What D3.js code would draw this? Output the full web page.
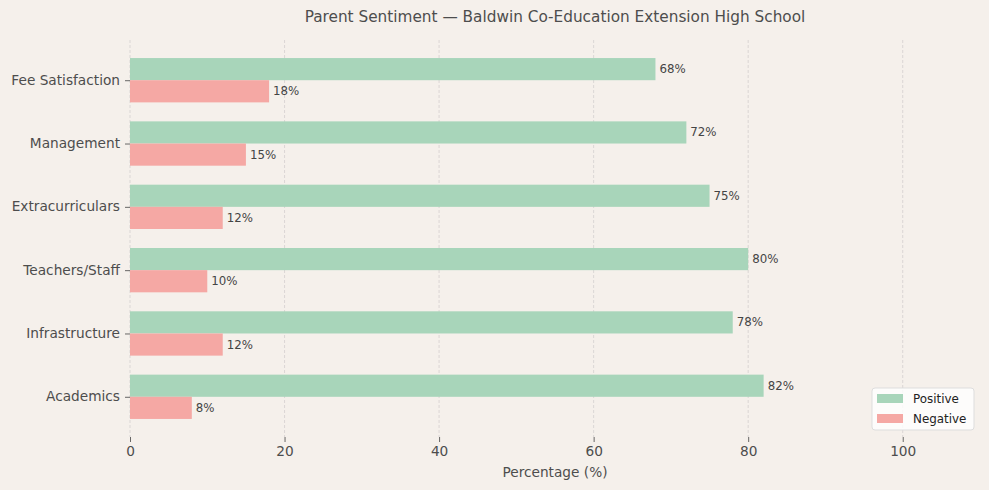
<!DOCTYPE html>
<html>
<head>
<meta charset="utf-8">
<script src="https://cdn.jsdelivr.net/npm/d3@7"></script>
<style>
  body { margin: 0; background: #f5f0eb; }
  svg { font-family: "DejaVu Sans", sans-serif; display: block; }
</style>
</head>
<body>
<div id="chart"></div>
<script>
// chart data
const categories = ["Academics", "Infrastructure", "Teachers/Staff", "Extracurriculars", "Management", "Fee Satisfaction"];
const positive = [82, 78, 80, 75, 72, 68];
const negative = [8, 12, 10, 12, 15, 18];
const xTicks = [0, 20, 40, 60, 80, 100];

const width = 989;
const height = 490;
const margin = { top: 40, right: 9, bottom: 53, left: 130 };
const barH = 0.35;
const textColor = "#4d4d4d";
const posColor = "#a8d5ba";
const negColor = "#f5a8a4";

const svg = d3.select("#chart")
    .append("svg")
    .attr("width", width)
    .attr("height", height);

svg.append("rect")
    .attr("width", width)
    .attr("height", height)
    .attr("fill", "#f5f0eb");

const x = d3.scaleLinear()
    .domain([0, 110])
    .range([margin.left, width - margin.right]);

// matplotlib-like y: index positions with 5% padding
const y = d3.scaleLinear()
    .domain([-0.35 - 0.285, categories.length - 1 + 0.35 + 0.285])
    .range([height - margin.bottom, margin.top]);

// vertical gridlines
svg.append("g")
    .selectAll("line")
    .data(xTicks)
    .join("line")
    .attr("x1", d => x(d))
    .attr("x2", d => x(d))
    .attr("y1", margin.top)
    .attr("y2", height - margin.bottom)
    .attr("stroke", "#d0cccc")
    .attr("stroke-width", 0.7)
    .attr("stroke-dasharray", "3,2");

// bars
const rows = categories.map((c, i) => ({ name: c, i: i, pos: positive[i], neg: negative[i] }));

svg.append("g")
    .selectAll("rect")
    .data(rows)
    .join("rect")
    .attr("x", x(0))
    .attr("y", d => y(d.i + barH))
    .attr("width", d => x(d.pos) - x(0))
    .attr("height", y(0) - y(barH))
    .attr("fill", posColor);

svg.append("g")
    .selectAll("rect")
    .data(rows)
    .join("rect")
    .attr("x", x(0))
    .attr("y", d => y(d.i))
    .attr("width", d => x(d.neg) - x(0))
    .attr("height", y(0) - y(barH))
    .attr("fill", negColor);

// value labels
const labelStyle = sel => sel
    .attr("font-size", "11.8px")
    .attr("fill", "#444")
    .attr("dominant-baseline", "central");

svg.append("g")
    .selectAll("text")
    .data(rows)
    .join("text")
    .attr("x", d => x(d.pos) + 4)
    .attr("y", d => y(d.i + barH / 2))
    .text(d => d.pos + "%")
    .call(labelStyle);

svg.append("g")
    .selectAll("text")
    .data(rows)
    .join("text")
    .attr("x", d => x(d.neg) + 4)
    .attr("y", d => y(d.i - barH / 2))
    .text(d => d.neg + "%")
    .call(labelStyle);

// x axis
const xAxis = svg.append("g")
    .attr("transform", `translate(0,${height - margin.bottom})`)
    .call(d3.axisBottom(x).tickValues(xTicks).tickSize(5).tickPadding(4));
xAxis.select(".domain").remove();
xAxis.selectAll(".tick line").attr("stroke", "#444").attr("stroke-width", 0.8);
xAxis.selectAll(".tick text")
    .attr("font-size", "13.7px")
    .attr("font-family", "DejaVu Sans, sans-serif")
    .attr("fill", textColor);

// y axis
const yAxis = svg.append("g")
    .attr("transform", `translate(${margin.left},0)`)
    .call(d3.axisLeft(y)
        .tickValues(d3.range(categories.length))
        .tickFormat(i => categories[i])
        .tickSize(5)
        .tickPadding(5));
yAxis.select(".domain").remove();
yAxis.selectAll(".tick line").attr("stroke", "#444").attr("stroke-width", 0.8);
yAxis.selectAll(".tick text")
    .attr("font-size", "13.7px")
    .attr("dy", "0.28em")
    .attr("font-family", "DejaVu Sans, sans-serif")
    .attr("fill", textColor);

// title and x label
svg.append("text")
    .attr("x", (margin.left + width - margin.right) / 2)
    .attr("y", 22)
    .attr("text-anchor", "middle")
    .attr("font-size", "15.3px")
    .attr("fill", textColor)
    .text("Parent Sentiment \u2014 Baldwin Co-Education Extension High School");

svg.append("text")
    .attr("x", (margin.left + width - margin.right) / 2)
    .attr("y", 477)
    .attr("text-anchor", "middle")
    .attr("font-size", "13.7px")
    .attr("fill", textColor)
    .text("Percentage (%)");

// legend
const legend = svg.append("g").attr("transform", "translate(872,388)");
legend.append("rect")
    .attr("width", 102)
    .attr("height", 42)
    .attr("rx", 3)
    .attr("fill", "#ffffff")
    .attr("fill-opacity", 0.8)
    .attr("stroke", "#dddddd");
const legendItems = [{ label: "Positive", color: posColor }, { label: "Negative", color: negColor }];
legend.selectAll("rect.key")
    .data(legendItems)
    .join("rect")
    .attr("class", "key")
    .attr("x", 5)
    .attr("y", (d, i) => 6 + i * 20)
    .attr("width", 26)
    .attr("height", 9)
    .attr("fill", d => d.color);
legend.selectAll("text")
    .data(legendItems)
    .join("text")
    .attr("x", 41)
    .attr("y", (d, i) => 11 + i * 20)
    .attr("dominant-baseline", "central")
    .attr("font-size", "11.9px")
    .attr("fill", "#222")
    .text(d => d.label);
</script>
</body>
</html>
